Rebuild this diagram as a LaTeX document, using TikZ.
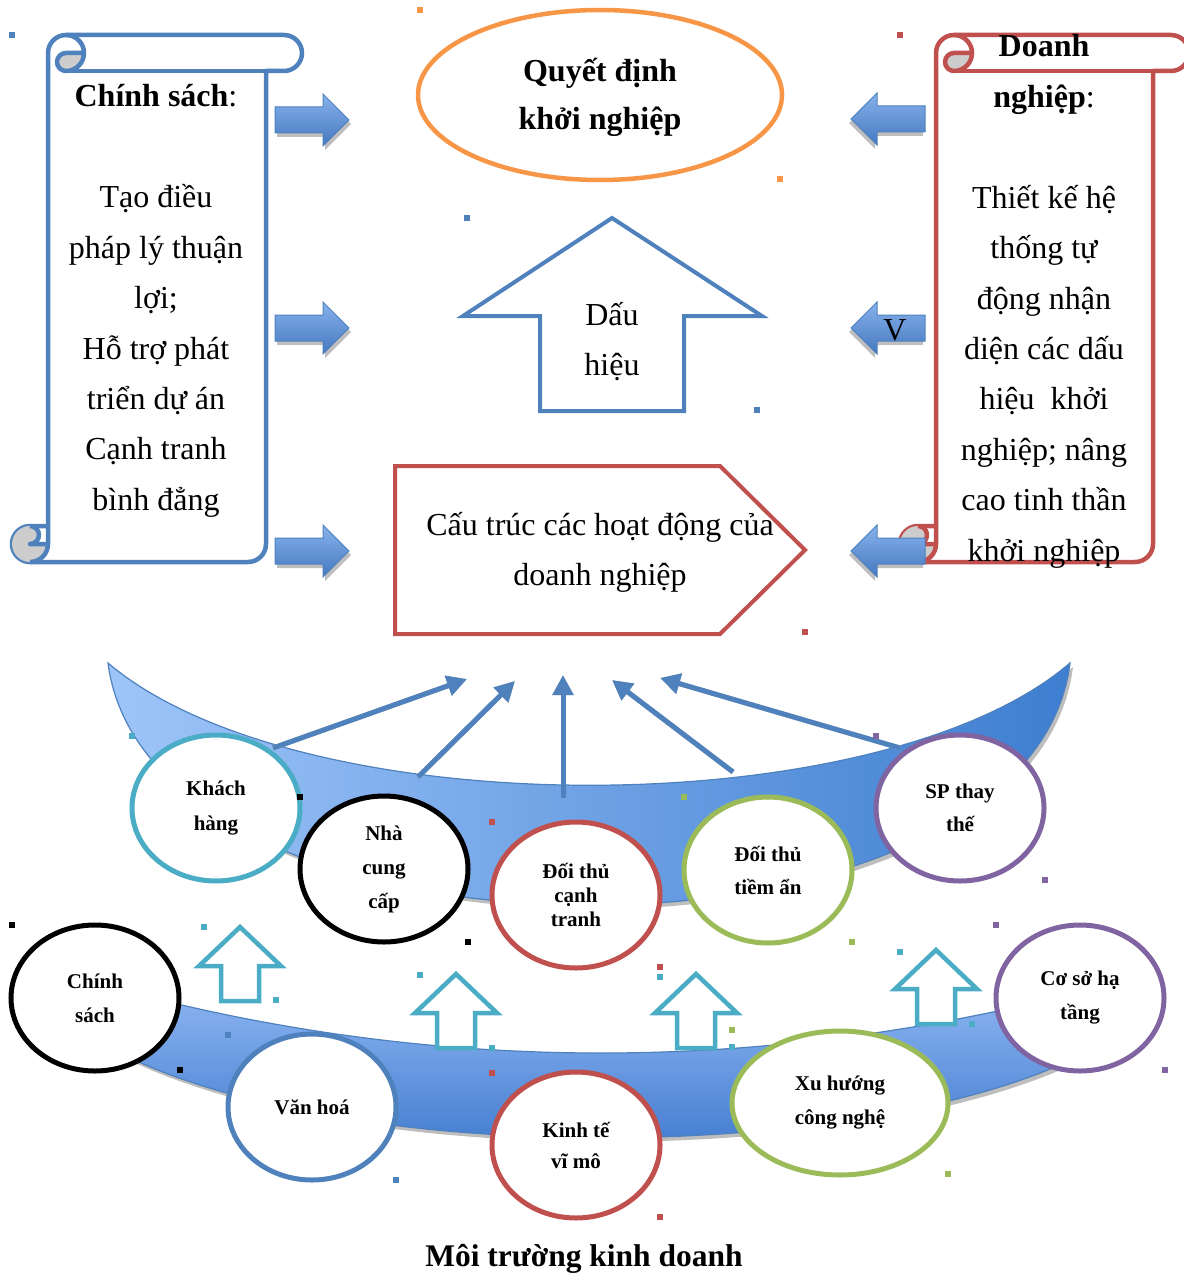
\documentclass[tikz,border=0pt]{standalone}
\usepackage{fontspec}
\setmainfont{Liberation Serif}
\usetikzlibrary{shapes.geometric,arrows.meta}

\definecolor{accBlue}{RGB}{79,129,189}
\definecolor{accRed}{RGB}{192,80,77}
\definecolor{accOrange}{RGB}{247,150,70}
\definecolor{accTeal}{RGB}{75,172,198}
\definecolor{accGreen}{RGB}{155,187,89}
\definecolor{accPurple}{RGB}{128,100,162}
\definecolor{curlGray}{RGB}{205,205,205}
\definecolor{shadowGray}{RGB}{190,190,190}
\definecolor{blockTop}{RGB}{135,178,235}
\definecolor{blockBot}{RGB}{70,120,192}
\definecolor{bandLight}{RGB}{158,197,249}
\definecolor{bandDark}{RGB}{62,126,208}
\definecolor{lowTop}{RGB}{142,182,242}
\definecolor{lowBot}{RGB}{58,118,204}

% vertical scroll: colour, left, top, width, height (units = px)
\newcommand\scrollshape[5]{%
\begin{scope}[shift={(#2,-#3)}, line width=4.5, line join=round]
 \filldraw[draw=#1, fill=white] (36,{-(#5-36)}) -- (36,-18)
   arc[start angle=180, delta angle=-90, radius=18] -- ({#4-18},0)
   arc[start angle=90, delta angle=-180, radius=18] -- ({#4-36},-36)
   -- ({#4-36},{-(#5-18)}) arc[start angle=0, delta angle=-90, radius=18]
   -- (18,-#5) arc[start angle=-90, delta angle=-180, radius=18] -- cycle;
 \fill[curlGray] (72,-18) arc[start angle=0, delta angle=-90, radius=18]
   arc[start angle=-90, delta angle=-180, radius=9] -- cycle;
 \fill[curlGray] (36,{-(#5-18)}) arc[start angle=0, delta angle=-270, radius=18]
   arc[start angle=90, delta angle=-180, radius=9] -- cycle;
 \draw[#1] (54,0) arc[start angle=90, delta angle=-180, radius=18]
   arc[start angle=-90, delta angle=-180, radius=9] -- (72,-18);
 \draw[#1] ({#4-36},-36) -- (54,-36);
 \draw[#1] (18,{-(#5-36)}) arc[start angle=90, delta angle=-180, radius=9] -- (36,{-(#5-18)});
 \draw[#1] (18,-#5) arc[start angle=-90, delta angle=90, radius=18] -- (36,{-(#5-36)});
\end{scope}}

% shaded block arrow: tail x, centre y, direction (1 or -1)
\newcommand\blockarrow[3]{%
\begin{scope}[shift={(#1,-#2)}, xscale=#3]
 \fill[shadowGray, shift={(2,-4)}] (0,13) -- (48,13) -- (48,26) -- (74,0)
   -- (48,-26) -- (48,-13) -- (0,-13) -- cycle;
 \shadedraw[top color=blockTop, bottom color=blockBot, draw=accBlue, line width=1]
   (0,13) -- (48,13) -- (48,26) -- (74,0) -- (48,-26) -- (48,-13) -- (0,-13) -- cycle;
\end{scope}}

% hollow up arrow: tip x, tip y
\newcommand\hollowup[2]{%
 \filldraw[draw=accTeal, fill=white, line width=4.5, line join=miter]
  (#1,-#2) -- ({#1+41},{-#2-39}) -- ({#1+19},{-#2-39}) -- ({#1+19},{-#2-74})
  -- ({#1-19},{-#2-74}) -- ({#1-19},{-#2-39}) -- ({#1-41},{-#2-39}) -- cycle;}

\tikzset{
 bodytxt/.style={font=\fontsize{32}{38}\selectfont, anchor=base, inner sep=0},
 boldtxt/.style={font=\fontsize{32}{38}\selectfont\bfseries, anchor=base, inner sep=0},
 ring/.style={ellipse, draw=#1, line width=5, fill=white, minimum width=168,
   minimum height=146, inner sep=0, align=center,
   font=\fontsize{21}{35}\selectfont\bfseries},
 flow/.style={accBlue, line width=5, -{Triangle[length=20pt,width=20pt]}},
 flowshadow/.style={shadowGray, line width=5, -{Triangle[length=20pt,width=20pt]}},
}

\begin{document}
\begin{tikzpicture}[x=1pt,y=1pt]
\useasboundingbox (0,0) rectangle (1183,-1273);

% side scrolls
\scrollshape{accBlue}{12}{35}{290}{527}
\scrollshape{accRed}{900}{35}{289}{527}

\foreach \txt [count=\i] in {{\textbf{Chính sách}:},{},Tạo điều,pháp lý thuận,lợi;,Hỗ trợ phát,triển dự án,Cạnh tranh,bình đẳng}
  \node[bodytxt] (cs-\i) at (156,{-107-50.4*(\i-1)}) {\txt};
\foreach \txt [count=\i] in {\textbf{Doanh},{\textbf{nghiệp}:},{},Thiết kế hệ,thống tự,động nhận,diện các dấu,{hiệu\ \ khởi},{nghiệp; nâng},cao tinh thần,khởi nghiệp}
  \node[bodytxt] (dn-\i) at (1044,{-57-50.4*(\i-1)}) {\txt};

% central column
\node[ellipse, draw=accOrange, line width=4.5, minimum width=364, minimum height=170, inner sep=0] (qd) at (600,-95) {};
\node[boldtxt] (qd-1) at (600,-82) {Quyết định};
\node[boldtxt] (qd-2) at (600,-130) {khởi nghiệp};

\filldraw[draw=accBlue, fill=white, line width=4, line join=miter]
  (612,-218) -- (762,-316) -- (684,-316) -- (684,-411) -- (540,-411) -- (540,-316) -- (463,-316) -- cycle;
\node[bodytxt] (dh-1) at (612,-325) {Dấu};
\node[bodytxt] (dh-2) at (612,-375) {hiệu};

\filldraw[draw=accRed, fill=white, line width=4, line join=miter]
  (395,-466) -- (720,-466) -- (805,-550) -- (720,-634) -- (395,-634) -- cycle;
\node[bodytxt] (ct-1) at (600,-535) {Cấu trúc các hoạt động của};
\node[bodytxt] (ct-2) at (600,-585) {doanh nghiệp};

% block arrows
\blockarrow{275}{120}{1}
\blockarrow{275}{328}{1}
\blockarrow{275}{551}{1}
\blockarrow{925}{119}{-1}
\blockarrow{925}{328}{-1}
\blockarrow{925}{551}{-1}
\node[bodytxt] (vmark) at (895,-340) {V};

% upper crescent
\fill[shadowGray, shift={(3,-4)}] (108,-663) .. controls (150,-986) and (1030,-986) .. (1070,-663)
  .. controls (880,-826) and (300,-826) .. (108,-663) -- cycle;
\shadedraw[left color=bandLight, right color=bandDark, draw=accBlue, line width=1.2]
  (108,-663) .. controls (150,-986) and (1030,-986) .. (1070,-663)
  .. controls (880,-826) and (300,-826) .. (108,-663) -- cycle;

% industry forces
\node[ring=accTeal] (kh) at (216,-808) {Khách\\hàng};
\node[ring=black, font=\fontsize{21}{34}\selectfont\bfseries] (ncc) at (384,-869) {Nhà\\cung\\cấp};
\node[ring=accRed, font=\fontsize{21}{24}\selectfont\bfseries] (dtct) at (576,-895) {Đối thủ\\cạnh\\tranh};
\node[ring=accGreen, font=\fontsize{21}{33}\selectfont\bfseries] (dtta) at (768,-870) {Đối thủ\\tiềm ẩn};
\node[ring=accPurple, font=\fontsize{21}{33}\selectfont\bfseries] (sp) at (960,-808) {SP thay\\thế};

% arrows towards the business
\coordinate (s1) at (273,-748); \coordinate (e1) at (467,-679);
\coordinate (s2) at (418,-777); \coordinate (e2) at (515,-681);
\coordinate (s3) at (563,-798); \coordinate (e3) at (563,-675);
\coordinate (s4) at (733,-772); \coordinate (e4) at (612,-680);
\coordinate (s5) at (900,-748); \coordinate (e5) at (660,-678);
\foreach \k in {1,...,5}
  \draw[flowshadow, shift={(2,-3)}] (s\k) -- (e\k);
\foreach \k in {1,...,5}
  \draw[flow] (s\k) -- (e\k);

% lower band
\fill[shadowGray, shift={(3,-4)}] (110,-987) .. controls (430,-1074) and (755,-1074) .. (1075,-993)
  -- (1075,-1058) .. controls (850,-1166) and (330,-1166) .. (110,-1048) -- cycle;
\shadedraw[top color=lowTop, bottom color=lowBot, draw=accBlue, line width=1.2]
  (110,-987) .. controls (430,-1074) and (755,-1074) .. (1075,-993)
  -- (1075,-1058) .. controls (850,-1166) and (330,-1166) .. (110,-1048) -- cycle;

\hollowup{240}{927}
\hollowup{456}{974}
\hollowup{696}{974}
\hollowup{936}{950}

% macro environment
\node[ring=black, font=\fontsize{21}{34}\selectfont\bfseries] (chs) at (95,-998) {Chính\\sách};
\node[ring=accBlue] (vh) at (312,-1107) {Văn hoá};
\node[ring=accRed, font=\fontsize{21}{31}\selectfont\bfseries] (kt) at (576,-1145) {Kinh tế\\vĩ mô};
\node[ring=accGreen, minimum width=216, minimum height=144, font=\fontsize{21}{34}\selectfont\bfseries] (xh) at (840,-1103) {Xu hướng\\công nghệ};
\node[ring=accPurple, font=\fontsize{21}{34}\selectfont\bfseries] (csht) at (1080,-998) {Cơ sở hạ\\tầng};

\node[font=\fontsize{31.5}{36}\selectfont\bfseries, anchor=base, inner sep=0] (title) at (584,-1266) {Môi trường kinh doanh};

% small square markers
\foreach \px/\py/\c in {12/35/accBlue, 467/218/accBlue, 757/410/accBlue, 228/1035/accBlue, 396/1180/accBlue,
  420/10/accOrange, 780/179/accOrange,
  900/35/accRed, 805/632/accRed, 492/822/accRed, 492/1073/accRed, 660/967/accRed, 660/1217/accRed,
  300/797/black, 12/925/black, 180/1070/black, 468/942/black,
  132/736/accTeal, 204/927/accTeal, 276/1000/accTeal, 420/975/accTeal, 492/1048/accTeal, 660/977/accTeal,
  900/952/accTeal, 732/1047/accTeal, 972/1024/accTeal,
  684/797/accGreen, 852/942/accGreen, 732/1030/accGreen, 948/1174/accGreen,
  876/736/accPurple, 1045/880/accPurple, 996/925/accPurple, 1165/1070/accPurple}
  \fill[\c] ({\px-3},{-\py-3}) rectangle ++(6,6);
\end{tikzpicture}
\end{document}
